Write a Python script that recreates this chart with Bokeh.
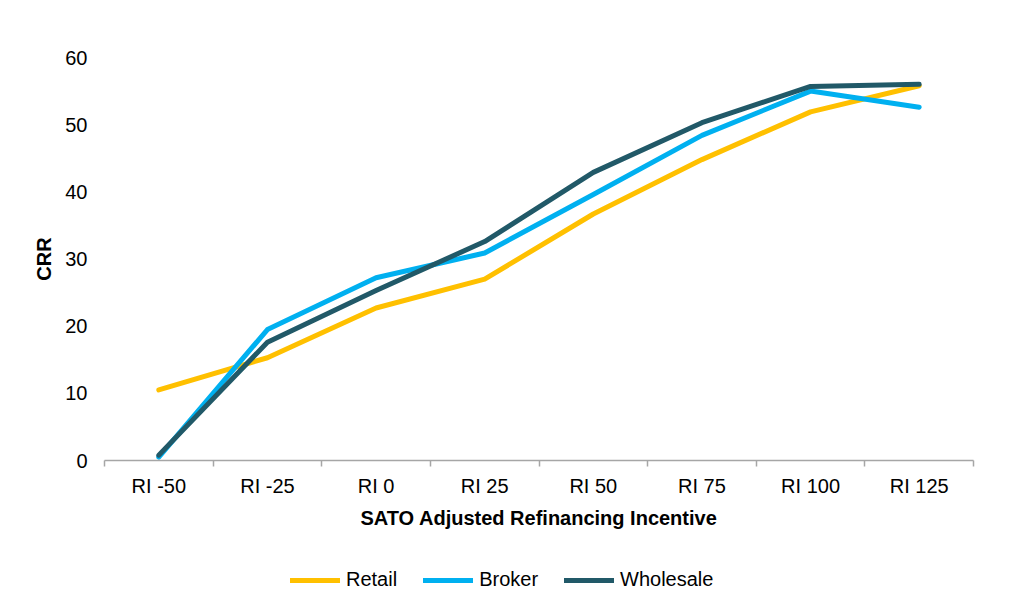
from bokeh.plotting import figure
from bokeh.layouts import column
from bokeh.models import Range1d, FixedTicker, Legend, LegendItem, ColumnDataSource
from bokeh.embed import file_html
from bokeh.resources import INLINE

categories = ["RI -50", "RI -25", "RI 0", "RI 25", "RI 50", "RI 75", "RI 100", "RI 125"]
retail = [10.5, 15.3, 22.7, 27.0, 36.7, 44.8, 51.9, 55.8]
broker = [0.5, 19.5, 27.2, 30.9, 39.6, 48.4, 55.0, 52.6]
wholesale = [0.8, 17.6, 25.3, 32.6, 42.9, 50.3, 55.7, 56.0]
series_names = ["Retail", "Broker", "Wholesale"]
colors = ["#FFC000", "#00B0F0", "#215968"]
y_ticks = [0, 10, 20, 30, 40, 50, 60]

FONT = "Liberation Sans"
xs = list(range(len(categories)))

p = figure(width=1008, height=544, output_backend="svg", toolbar_location=None,
           x_range=Range1d(-0.5, len(categories) - 0.5), y_range=Range1d(0, 60),
           min_border_left=104, min_border_right=35, min_border_top=57, min_border_bottom=84)
p.outline_line_color = None
p.xgrid.grid_line_color = None
p.ygrid.grid_line_color = None
p.background_fill_color = "white"
p.border_fill_color = "white"

# separate strip under the chart that only carries the legend
pl = figure(width=1008, height=50, output_backend="svg", toolbar_location=None,
            x_range=Range1d(-0.5, len(categories) - 0.5), y_range=Range1d(1000, 1001),
            x_axis_type=None, y_axis_type=None,
            min_border_left=0, min_border_right=0, min_border_top=0, min_border_bottom=0)
pl.outline_line_color = None
pl.grid.visible = False
pl.background_fill_color = "white"
pl.border_fill_color = "white"

legend_items = []
for name, vals, c in zip(series_names, [retail, broker, wholesale], colors):
    src = ColumnDataSource(dict(x=xs, y=vals))
    p.line("x", "y", source=src, line_color=c, line_width=5,
           line_cap="round", line_join="round")
    rl = pl.line("x", "y", source=src, line_color=c, line_width=5,
                 line_cap="round", line_join="round")
    legend_items.append(LegendItem(label=name, renderers=[rl]))

# x axis
xa = p.xaxis[0]
xa.ticker = FixedTicker(ticks=xs, minor_ticks=[i - 0.5 for i in range(len(categories) + 1)])
xa.major_label_overrides = {i: c for i, c in enumerate(categories)}
xa.major_tick_line_color = None
xa.major_tick_out = 0
xa.major_tick_in = 0
xa.minor_tick_line_color = "#A6A6A6"
xa.minor_tick_line_width = 1.5
xa.minor_tick_out = 6
xa.minor_tick_in = 0
xa.axis_line_color = "#A6A6A6"
xa.axis_line_width = 1.5
xa.major_label_standoff = 8
xa.major_label_text_font = FONT
xa.major_label_text_font_size = "20px"
xa.major_label_text_color = "#000000"
xa.axis_label = "SATO Adjusted Refinancing Incentive"
xa.axis_label_text_font = FONT
xa.axis_label_text_font_size = "20px"
xa.axis_label_text_font_style = "bold"
xa.axis_label_text_color = "#000000"
xa.axis_label_standoff = 7

# y axis
ya = p.yaxis[0]
ya.ticker = FixedTicker(ticks=y_ticks)
ya.minor_tick_line_color = None
ya.major_tick_line_color = None
ya.major_tick_out = 0
ya.major_tick_in = 0
ya.axis_line_color = None
ya.major_label_standoff = 17
ya.major_label_text_font = FONT
ya.major_label_text_font_size = "20px"
ya.major_label_text_color = "#000000"
ya.axis_label = "CRR"
ya.axis_label_text_font = FONT
ya.axis_label_text_font_size = "20px"
ya.axis_label_text_font_style = "bold"
ya.axis_label_text_color = "#000000"
ya.axis_label_standoff = 7

legend = Legend(items=legend_items, orientation="horizontal", location=(186, 3),
                glyph_width=50, glyph_height=20, label_standoff=6, spacing=26,
                padding=0, margin=0, border_line_color=None, background_fill_alpha=0,
                label_text_font=FONT, label_text_font_size="20px", label_text_color="#000000")
pl.add_layout(legend, "center")

layout = column(p, pl, spacing=0)
open("out.html", "w").write(file_html(layout, INLINE))
